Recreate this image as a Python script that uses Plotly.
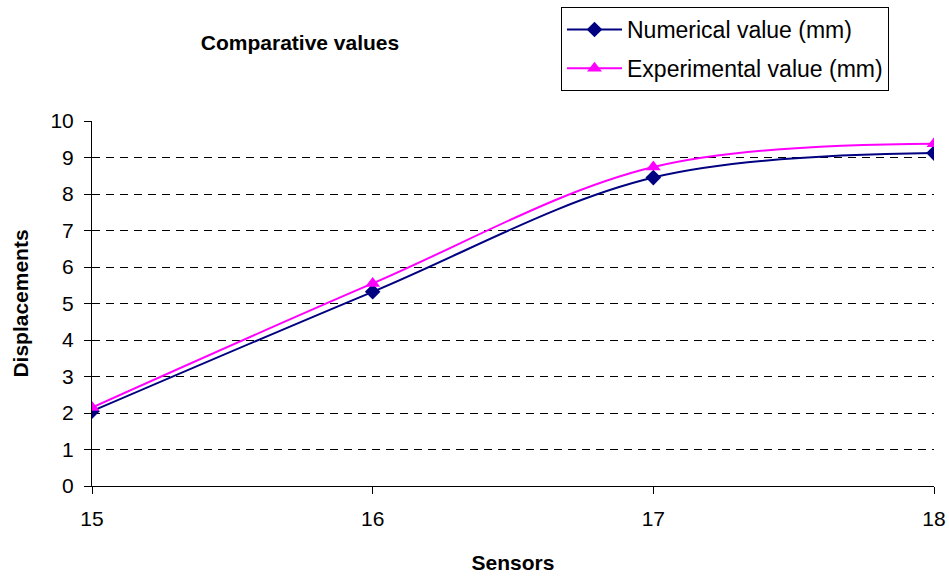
import plotly.graph_objects as go

sensors = [15, 16, 17, 18]
numerical_mm = [2.05, 5.32, 8.45, 9.12]
experimental_mm = [2.15, 5.55, 8.74, 9.38]
y_ticks = list(range(0, 11))
x_ticks = [15, 16, 17, 18]

FONT = "Liberation Sans, Arial, sans-serif"

fig = go.Figure()
fig.add_trace(go.Scatter(
    x=sensors, y=numerical_mm, name="Numerical value (mm)",
    mode="lines+markers", legendgroup="num",
    line=dict(color="#000080", width=2, shape="spline", smoothing=1),
    marker=dict(symbol="diamond", size=12, color="#000080"),
))
fig.add_trace(go.Scatter(
    x=sensors, y=experimental_mm, name="Experimental value (mm)",
    mode="lines+markers", legendgroup="exp",
    line=dict(color="#FF00FF", width=2, shape="spline", smoothing=1),
    marker=dict(symbol="triangle-up", size=13, color="#FF00FF"),
))

fig.update_layout(
    width=949, height=576,
    margin=dict(l=92, r=15, t=121, b=90, autoexpand=False),
    paper_bgcolor="white", plot_bgcolor="white",
    font=dict(family=FONT, color="black", size=21),
    title=dict(text="<b>Comparative values</b>", xref="container", yref="container",
               x=300 / 949, xanchor="center", y=1 - 43 / 576, yanchor="middle",
               font=dict(size=21, family=FONT, color="black")),
    showlegend=True,
    legend=dict(xref="container", yref="container", x=561 / 949, y=1 - 7 / 576,
                xanchor="left", yanchor="top", bordercolor="black", borderwidth=1,
                bgcolor="white", font=dict(size=23, family=FONT),
                itemwidth=55, traceorder="grouped", tracegroupgap=6),
    xaxis=dict(range=[15, 18], tickvals=x_ticks, ticks="outside", ticklen=7,
               tickcolor="black", showline=True, linecolor="black", linewidth=1,
               showgrid=False, zeroline=False, ticklabelstandoff=7,
               tickfont=dict(size=21, family=FONT),
               title=dict(text="<b>Sensors</b>", font=dict(size=21, family=FONT), standoff=26)),
    yaxis=dict(range=[0, 10], tickvals=y_ticks, ticks="outside", ticklen=7,
               tickcolor="black", showline=True, linecolor="black", linewidth=1,
               showgrid=True, gridcolor="black", griddash="8px,6px", gridwidth=1,
               zeroline=False, ticklabelstandoff=6,
               tickfont=dict(size=21, family=FONT),
               title=dict(text="<b>Displacements</b>", font=dict(size=21, family=FONT), standoff=16)),
)

fig.write_html("out.html")
